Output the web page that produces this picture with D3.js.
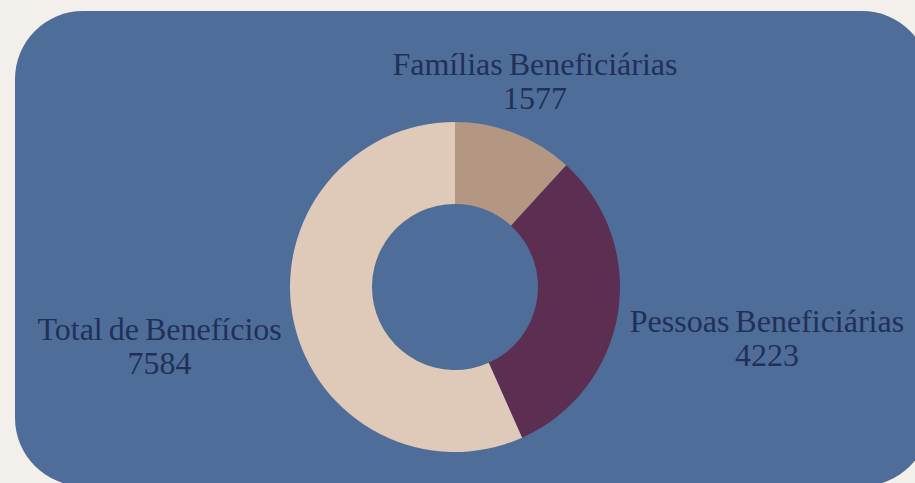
<!DOCTYPE html>
<html>
<head>
<meta charset="utf-8">
<script src="https://cdn.jsdelivr.net/npm/d3@7"></script>
<style>
  html, body { margin: 0; padding: 0; background: #f3f0eb; }
  svg { display: block; }
</style>
</head>
<body>
<div class="chart"></div>
<script>
const WIDTH = 915, HEIGHT = 483;

const categories = ["Famílias Beneficiárias", "Pessoas Beneficiárias", "Total de Benefícios"];
const values = [1577, 4223, 7584];
const colors = ["#b39782", "#5c2e52", "#dfc9b8"];

const CX = 455, CY = 287;
const OUTER = 165, INNER = 83;

var svg = d3
  .select(".chart")
  .append("svg")
  .attr("width", WIDTH)
  .attr("height", HEIGHT);

svg.append("rect")
  .attr("width", WIDTH)
  .attr("height", HEIGHT)
  .attr("fill", "#f3f0eb");

// blue rounded panel, runs off the right and bottom edges
svg.append("rect")
  .attr("x", 15)
  .attr("y", 11)
  .attr("width", 915)
  .attr("height", 475)
  .attr("rx", 68)
  .attr("ry", 68)
  .attr("fill", "#4f6d99");

const data = categories.map((c, i) => ({ name: c, value: values[i] }));

const pie = d3.pie()
  .sort(null)
  .value(d => d.value);

const arc = d3.arc()
  .innerRadius(INNER)
  .outerRadius(OUTER);

const arcs = pie(data);
const color = d3.scaleOrdinal().domain(categories).range(colors);

const g = svg.append("g")
  .attr("transform", `translate(${CX},${CY})`);

g.selectAll("path")
  .data(arcs)
  .enter()
  .append("path")
  .attr("d", arc)
  .attr("fill", d => color(d.data.name));

// labels outside the ring
g.selectAll("text")
  .data(arcs)
  .enter()
  .append("text")
  .attr("font-family", "'Liberation Serif', 'Times New Roman', serif")
  .attr("font-size", 32)
  .attr("word-spacing", -2)
  .attr("fill", "#1f3157")
  .each(function(d) {
    const a = (d.startAngle + d.endAngle) / 2;
    const s = Math.sin(a), c = Math.cos(a);
    let x, y, anchor;
    if (Math.abs(s) < 0.5) {
      x = 221 * s;
      y = -221 * c - 6;
      anchor = "middle";
    } else {
      x = 172 * s;
      y = -172 * c + 17;
      anchor = s > 0 ? "start" : "end";
      x += s > 0 ? 5 : -5;
    }
    const t = d3.select(this).attr("text-anchor", "middle");
    const lines = [d.data.name, d3.format("d")(d.data.value)];
    // measure the name so the block can be centred on its own width
    t.append("tspan").attr("x", 0).attr("y", 0).text(lines[0]);
    const w = this.getComputedTextLength();
    t.text("");
    let mx = x;
    if (anchor === "start") mx = x + w / 2;
    if (anchor === "end") mx = x - w / 2;
    lines.forEach((l, i) => {
      t.append("tspan")
        .attr("x", mx)
        .attr("y", y + i * 34)
        .text(l);
    });
  });
</script>
</body>
</html>
